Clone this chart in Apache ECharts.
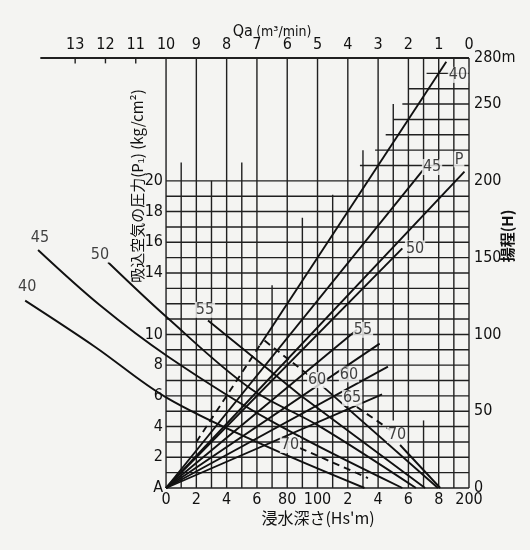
<!DOCTYPE html>
<html><head><meta charset="utf-8">
<script src="https://cdn.jsdelivr.net/npm/echarts@6/dist/echarts.min.js"></script>
<style>html,body{margin:0;padding:0;background:#f4f4f2}#c{width:530px;height:550px}</style>
</head><body><div id="c"></div>
<script>
// ---- tick labels ----
const hsTickLabels = ['0','2','4','6','80','100','2','4','6','8','200']; // Hs (m) at 0,20,...,200
const qaTickLabels = ['0','1','2','3','4','5','6','7','8','9','10','11','12','13','','']; // Qa at Hs=200,180,...
const pTickLabels = {0:'A',2:'2',4:'4',6:'6',8:'8',10:'10',14:'14',16:'16',18:'18',20:'20'};
const hTickLabels = {0:'0',50:'50',100:'100',150:'150',200:'200',250:'250',280:'280m'};

// ---- grid (Hs, from H, to H) and (H, from Hs, to Hs) ----
const vGrid = [[0,0,280],[10,0,212],[20,0,280],[30,0,200],[40,0,280],[50,0,212],[60,0,280],[70,0,132],
  [80,0,280],[90,0,176],[100,0,280],[110,0,191],[120,0,280],[130,0,220],[140,0,280],[150,44,250],
  [160,0,280],[170,0,44],[170,160,280],[180,0,280],[190,0,280],[200,0,280]];
const hGrid = [[0,0,200],[10,0,200],[20,0,200],[30,0,200],[40,0,200],[50,0,200],[60,0,200],[70,0,200],
  [80,0,200],[90,0,200],[100,0,200],[110,0,200],[120,0,200],[130,0,200],[140,0,200],[150,0,200],
  [160,0,200],[170,0,200],[180,0,200],[190,0,200],[200,0,200],
  [210,128,200],[220,138,200],[230,145,200],[240,150,200],[250,156,200],[260,160,200],[270,172,200]];
// Qa scale line (H=280) from Hs=-83 to 200, small ticks at Qa 11,12,13
const qaLine = [[-83,280],[200,280]];
const qaSmallTicks = [-60,-40,-20];

// ---- rising lines from A (Hs, H) ----
const rise40dash = [[20,30],[62,93]];
const rise40 = [[62,93],[185,277.5]];
const rise45 = [[0,0],[169.6,207]];
const riseP = [[0,0],[197,206]];
const rise50 = [[0,0],[156,156]];
const rise55 = [[0,0],[126,103]];
const rise60 = [[0,0],[141,94]];
const rise65 = [[0,0],[146.5,79]];
const rise70 = [[0,0],[142.6,61]];

// ---- falling curves (Hs, H) ----
const fall40 = [[-93,122],[-47,92],[0,59],[62,29],[131,0]];
const fall45 = [[-84.5,155],[-43.6,119],[0.7,86],[68.6,44],[156,0]];
const fall50 = [[-38.3,147],[0.7,111],[55.4,65],[101.7,40],[165,0]];
const fall55 = [[27.7,109],[88.4,60.5],[171,0]];
const fall60dash = [[65,96],[96,72]];
const fall60 = [[103.6,66],[179.5,0]];
const fall70dash = [[126,52.7],[148,37.8]];
const fall70 = [[154.5,28],[181,0]];
const fall70bdash = [[88.4,26],[133.3,6.5]];

// ---- curve labels (Hs, H, text) ----
const curveLabels = [
  [192.7,269,'40'],[175.6,209,'45'],[193.4,214,'P'],[164.4,156,'50'],[130,103,'55'],
  [120.8,74,'60'],[122.8,58.6,'65'],[81.8,28,'70'],
  [-91.7,131,'40'],[-83.2,163,'45'],[-43.6,152,'50'],[25.7,116,'55'],[99.7,70.3,'60'],[152.5,34.5,'70']
];

const FONT = '"Liberation Sans Narrow","DejaVu Sans Condensed","Liberation Sans",sans-serif';
const INK = '#111111';
const BG = '#f4f4f2';
const chart = echarts.init(document.getElementById('c'), null, {renderer:'canvas'});

const segData = [];
vGrid.forEach(v => segData.push([v[0], v[1], v[0], v[2], 1.4]));
hGrid.forEach(h => segData.push([h[1], h[0], h[2], h[0], 1.4]));
segData.push([qaLine[0][0], qaLine[0][1], qaLine[1][0], qaLine[1][1], 1.8]);
qaSmallTicks.forEach(u => segData.push([u, 280, u, 276.5, 1.4]));

function lineSeries(pts, dashed, smooth) {
  return {type:'line', xAxisIndex:0, yAxisIndex:1, data:pts, showSymbol:false, symbol:'none',
    clip:false, silent:true, smooth: smooth || false, z:5,
    lineStyle:{color:INK, width:1.9, type: dashed ? [7,5] : 'solid'}};
}

const series = [
  {type:'custom', xAxisIndex:0, yAxisIndex:1, data:segData, clip:false, silent:true, z:2,
   renderItem:(params, api) => {
     const a = api.coord([api.value(0), api.value(1)]);
     const b = api.coord([api.value(2), api.value(3)]);
     return {type:'line', shape:{x1:a[0],y1:a[1],x2:b[0],y2:b[1]}, style:{stroke:'#202020', lineWidth:api.value(4)}};
   }},
  lineSeries(rise40dash, true), lineSeries(rise40), lineSeries(rise45), lineSeries(riseP),
  lineSeries(rise50), lineSeries(rise55), lineSeries(rise60), lineSeries(rise65), lineSeries(rise70),
  lineSeries(fall40, false, 0.35), lineSeries(fall45, false, 0.35), lineSeries(fall50, false, 0.35),
  lineSeries(fall55), lineSeries(fall60dash, true), lineSeries(fall60),
  lineSeries(fall70dash, true), lineSeries(fall70), lineSeries(fall70bdash, true),
  {type:'scatter', xAxisIndex:0, yAxisIndex:1, symbolSize:1, itemStyle:{color:'rgba(0,0,0,0)'}, clip:false, silent:true, z:10,
   data: curveLabels.map(l => ({value:[l[0], l[1]], name:l[2]})),
   label:{show:true, position:'inside', formatter:p => p.name, color:INK, fontFamily:FONT, fontSize:16,
     backgroundColor:BG, padding:[0,1]}}
];

chart.setOption({
  backgroundColor:BG,
  animation:false,
  grid:{left:14.57, right:61, top:58, bottom:62},
  xAxis:[
    {type:'value', position:'bottom', min:-100, max:200, interval:20,
     axisLine:{show:false, onZero:false}, axisTick:{show:false}, splitLine:{show:false},
     axisLabel:{color:INK, fontFamily:FONT, fontSize:16, margin:4,
       formatter:v => v < 0 ? '' : hsTickLabels[Math.round(v/20)]}},
    {type:'value', position:'top', min:-100, max:200, interval:20,
     axisLine:{show:false, onZero:false}, axisTick:{show:false}, splitLine:{show:false},
     axisLabel:{color:INK, fontFamily:FONT, fontSize:16, margin:5,
       formatter:v => qaTickLabels[Math.round((200 - v)/20)]}}
  ],
  yAxis:[
    {type:'value', position:'left', min:0, max:28, interval:2, offset:-151.43,
     axisLine:{show:false}, axisTick:{show:false}, splitLine:{show:false},
     axisLabel:{color:INK, fontFamily:FONT, fontSize:16, margin:3,
       formatter:v => pTickLabels[v] !== undefined ? pTickLabels[v] : ''}},
    {type:'value', position:'right', min:0, max:280, interval:10,
     axisLine:{show:false}, axisTick:{show:false}, splitLine:{show:false},
     axisLabel:{color:INK, fontFamily:FONT, fontSize:16, margin:5, showMinLabel:true, showMaxLabel:true,
       formatter:v => hTickLabels[v] !== undefined ? hTickLabels[v] : ''}}
  ],
  graphic:[
    {type:'text', x:272, y:32, style:{text:'{a|Qa} {b|(m³/min)}', align:'center', verticalAlign:'middle', rich:{
      a:{fontFamily:FONT, fontSize:16, fill:INK}, b:{fontFamily:FONT, fontSize:14, fill:INK}}}},
    {type:'text', x:137, y:186, rotation:Math.PI/2,
     style:{text:'吸込空気の圧力(P₁) (kg/cm²)', font:'15px "Noto Sans CJK JP", sans-serif', fill:INK,
       align:'center', verticalAlign:'middle'}},
    {type:'text', x:507, y:236, rotation:Math.PI/2,
     style:{text:'揚程(H)', font:'bold 15px "Noto Sans CJK JP", sans-serif', fill:INK,
       align:'center', verticalAlign:'middle'}},
    {type:'text', x:318, y:518,
     style:{text:"浸水深さ(Hs'm)", font:'16px "Noto Sans CJK JP", sans-serif', fill:INK,
       align:'center', verticalAlign:'middle'}}
  ],
  series: series
});
</script></body></html>
